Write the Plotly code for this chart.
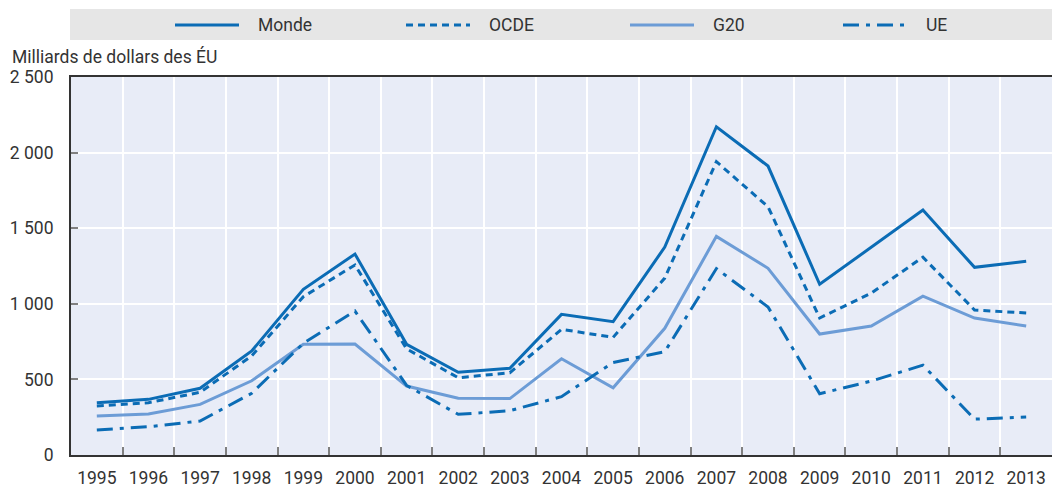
import plotly.graph_objects as go

years = [str(y) for y in range(1995, 2014)]
monde = [346, 368, 441, 688, 1096, 1329, 732, 547, 573, 930, 882, 1375, 2171, 1911, 1129, 1372, 1620, 1241, 1281]
ocde = [324, 346, 415, 655, 1047, 1257, 702, 511, 544, 831, 778, 1170, 1940, 1642, 906, 1071, 1308, 959, 939]
g20 = [258, 271, 335, 491, 732, 734, 456, 375, 373, 637, 445, 838, 1446, 1235, 800, 853, 1050, 906, 853]
ue = [165, 187, 225, 408, 739, 952, 460, 269, 293, 386, 612, 683, 1233, 979, 405, 489, 594, 237, 251]

series_names = ["Monde", "OCDE", "G20", "UE"]
series_values = [monde, ocde, g20, ue]
DARK = "#0b6cb5"
LIGHT = "#6c9cd6"
colors = [DARK, DARK, LIGHT, DARK]
dashes = ["solid", "7px,5px", "solid", "16px,7px,4px,7px"]

y_ticks = [0, 500, 1000, 1500, 2000, 2500]
y_title = "Milliards de dollars des ÉU"

FONT = "Roboto, Liberation Sans, sans-serif"
FS = 17.5
TXT = "#333333"

W, H = 1052, 489
ML, MR, MT, MB = 71, 0, 77, 34
PW, PH = W - ML - MR, H - MT - MB

def px(x):
    return (x - ML) / PW

def py(y):
    return (H - MB - y) / PH

fig = go.Figure()
for name, vals, c, d in zip(series_names, series_values, colors, dashes):
    fig.add_trace(go.Scatter(x=years, y=vals, mode="lines", name=name,
                             line=dict(color=c, width=3, dash=d), showlegend=False))

shapes = [dict(type="rect", xref="paper", yref="paper", x0=px(70), x1=px(1052), y0=py(40), y1=py(9),
               fillcolor="#e6e6e6", line=dict(width=0), layer="below")]
annotations = []
leg_starts = [175, 406, 630, 843]
for name, c, d, x0 in zip(series_names, colors, dashes, leg_starts):
    shapes.append(dict(type="line", xref="paper", yref="paper", x0=px(x0), x1=px(x0 + 64),
                       y0=py(25), y1=py(25), line=dict(color=c, width=3, dash=d)))
    annotations.append(dict(text=name, xref="paper", yref="paper", x=px(x0 + 81), y=py(25),
                            xanchor="left", yanchor="middle", showarrow=False,
                            font=dict(family=FONT, size=FS, color=TXT)))
annotations.append(dict(text=y_title, xref="paper", yref="paper", x=px(10), y=py(57),
                        xanchor="left", yanchor="middle", showarrow=False,
                        font=dict(family=FONT, size=FS, color=TXT)))

fig.update_layout(
    width=W, height=H,
    margin=dict(l=ML, r=MR, t=MT, b=MB, autoexpand=False),
    paper_bgcolor="white", plot_bgcolor="#e8ecf7",
    separators=", ",
    font=dict(family=FONT, size=FS, color=TXT),
    shapes=shapes, annotations=annotations,
    showlegend=False,
)
fig.update_xaxes(type="category", categoryorder="array", categoryarray=years,
                 tickson="boundaries", ticks="inside", ticklen=8, tickcolor="#808080", tickwidth=1.5,
                 showgrid=True, gridcolor="white", gridwidth=1.5,
                 showline=True, linecolor="#333333", linewidth=2, mirror=True,
                 tickangle=0, automargin=False,
                 ticklabelstandoff=6, tickfont=dict(family=FONT, size=FS, color=TXT),
                 range=[-0.5, len(years) - 0.5])
fig.update_yaxes(range=[0, 2500], tickvals=y_ticks, tickformat=",d",
                 ticks="inside", ticklen=7, tickcolor="#808080", tickwidth=1.5,
                 showgrid=True, gridcolor="white", gridwidth=1.5,
                 showline=True, linecolor="#333333", linewidth=2, zeroline=False,
                 automargin=False,
                 ticklabelstandoff=12, tickfont=dict(family=FONT, size=FS, color=TXT))

fig.write_html("out.html", config={"displayModeBar": False},
               post_script="document.body.style.margin='0';document.body.style.overflow='hidden';")
